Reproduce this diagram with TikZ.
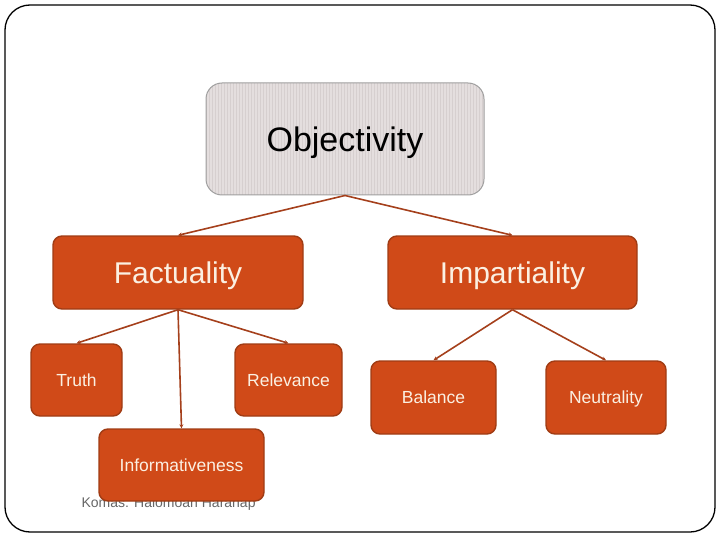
\documentclass[tikz,border=0pt]{standalone}
\usepackage{fontspec}
\setmainfont{Liberation Sans}
\usetikzlibrary{arrows.meta}

\definecolor{boxfill}{HTML}{D04A18}
\definecolor{boxline}{HTML}{A03C14}
\definecolor{boxtext}{HTML}{FBF0E2}
\definecolor{linkcol}{HTML}{A5401C}
\definecolor{topfill}{HTML}{E4DEDE}
\definecolor{topstripe}{HTML}{D6CFCF}

\tikzset{
    mainbox/.style={draw=boxline, fill=boxfill, line width=1.4pt, rounded corners=9pt,
        text=boxtext, inner sep=0pt, text depth=0pt},
    link/.style={draw=linkcol, line width=1.6pt, -{Stealth[length=4pt,width=4pt]}}
}

\begin{document}
\begin{tikzpicture}[x=1pt, y=-1pt]
    \useasboundingbox (0,0) rectangle (720,540);
    % slide frame
    \draw[line width=1.3pt, rounded corners=25pt] (5,5) rectangle (715,532);

    % top node
    \node[draw=gray!75, line width=1pt, rounded corners=16pt, fill=topfill,
        minimum width=278pt, minimum height=112pt, inner sep=0pt, text depth=0pt,
        font=\fontsize{34}{40}\selectfont,
        path picture={
            \foreach \i in {0,3,...,280}
                \draw[topstripe, line width=0.8pt]
                    ([xshift=\i pt]path picture bounding box.north west) --
                    ([xshift=\i pt]path picture bounding box.south west);
        }] (obj) at (345,139) {Objectivity};

    % source line behind the lowest box
    \node[text=gray!80!black, font=\fontsize{14}{16}\selectfont, anchor=west]
        (src) at (78,504) {Komas: Halomoan Harahap};

    % second level
    \node[mainbox, minimum width=250pt, minimum height=73pt,
        font=\fontsize{30}{34}\selectfont] (fact) at (178,272.5) {Factuality};
    \node[mainbox, minimum width=249pt, minimum height=73pt,
        font=\fontsize{30}{34}\selectfont] (imp) at (512.5,272.5) {Impartiality};

    % third level
    \node[mainbox, minimum width=91pt, minimum height=72pt,
        font=\fontsize{17.5}{20}\selectfont] (truth) at (76.5,380) {Truth};
    \node[mainbox, minimum width=107pt, minimum height=72pt,
        font=\fontsize{17.5}{20}\selectfont] (rel) at (288.5,380) {Relevance};
    \node[mainbox, minimum width=165pt, minimum height=72pt,
        font=\fontsize{17.5}{20}\selectfont] (info) at (181.5,465) {Informativeness};
    \node[mainbox, minimum width=125pt, minimum height=73pt,
        font=\fontsize{17.5}{20}\selectfont] (bal) at (433.5,397.5) {Balance};
    \node[mainbox, minimum width=120pt, minimum height=73pt,
        font=\fontsize{17.5}{20}\selectfont] (neu) at (606,397.5) {Neutrality};

    % connectors
    \draw[link] (obj.south) -- (fact.north);
    \draw[link] (obj.south) -- (imp.north);
    \draw[link] (fact.south) -- (truth.north);
    \draw[link] (fact.south) -- (rel.north);
    \draw[link] (fact.south) -- (info.north);
    \draw[link] (imp.south) -- (bal.north);
    \draw[link] (imp.south) -- (neu.north);
\end{tikzpicture}
\end{document}
